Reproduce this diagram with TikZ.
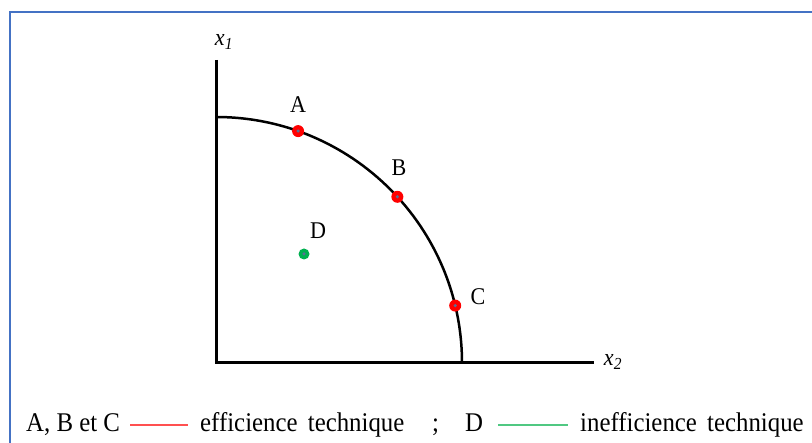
\documentclass[tikz,border=0pt]{standalone}
\usepackage{fontspec}
\setmainfont{Liberation Serif}
\newfontfamily\condserif[FakeStretch=0.92]{Liberation Serif}
\usetikzlibrary{calc}
\definecolor{framec}{RGB}{68,114,196}
\definecolor{dotred}{RGB}{255,0,0}
\definecolor{dotgreen}{RGB}{0,176,80}
\definecolor{dotcore}{RGB}{90,110,150}
\definecolor{legred}{RGB}{255,80,80}
\definecolor{leggreen}{RGB}{80,200,130}
\begin{document}
\begin{tikzpicture}[x=1pt,y=-1pt,
  frame/.style={draw=framec,line width=2pt},
  axis/.style={line width=3pt,line join=miter},
  curve/.style={line width=2.5pt},
  redpt/.style={circle,fill=dotred,inner sep=0pt,minimum size=12pt},
  greenpt/.style={circle,fill=dotgreen,inner sep=0pt,minimum size=11pt},
  core/.style={circle,fill=dotcore,inner sep=0pt,minimum size=3.5pt},
  lab/.style={font=\condserif\fontsize{24}{26}\selectfont,inner sep=0pt},
  axlab/.style={font=\condserif\fontsize{24}{26}\selectfont\itshape,inner sep=0pt},
  leg/.style={font=\condserif\fontsize{27}{30}\selectfont,inner sep=0pt,anchor=base west},
  legline/.style={line width=2pt}]
\useasboundingbox (0,0) rectangle (812,443);
\clip (0,0) rectangle (812,443);
\fill[white] (0,0) rectangle (812,443);
\draw[frame] (10,12) rectangle (840,470);
\coordinate (O) at (216,363);
\coordinate (Ytop) at (216,60);
\coordinate (Xend) at (594,363);
\draw[axis] (Ytop) -- (O) -- (Xend);
\draw[curve] (216,117) arc[start angle=90,end angle=0,radius=246pt];
\node[redpt] (A) at ($(O)+(70.5:246pt)$) {};
\node[redpt] (B) at ($(O)+(42.5:246pt)$) {};
\node[redpt] (C) at ($(O)+(13.5:246pt)$) {};
\node[greenpt] (D) at (304,254) {};
\foreach \p in {A,B,C,D} \node[core] at (\p) {};
\node[lab] (la) at (298,105) {A};
\node[lab] (lb) at (399,168) {B};
\node[lab] (lc) at (478,297) {C};
\node[lab] (ld) at (318,231) {D};
\node[axlab] (x1) at (224,42) {x\textsubscript{1}};
\node[axlab] (x2) at (613,362) {x\textsubscript{2}};
\node[leg] (l1) at (26,432) {A, B et C};
\coordinate (r1) at (130,425);
\coordinate (r2) at (188,425);
\draw[legline,legred] (r1) -- (r2);
\node[leg] (l2) at (200,432) {efficience\hspace{4pt} technique};
\node[leg] (l3) at (432,432) {;};
\node[leg] (l4) at (465,432) {D};
\coordinate (g1) at (498,425);
\coordinate (g2) at (568,425);
\draw[legline,leggreen] (g1) -- (g2);
\node[leg] (l5) at (580,432) {inefficience\hspace{4pt} technique};
\end{tikzpicture}
\end{document}
